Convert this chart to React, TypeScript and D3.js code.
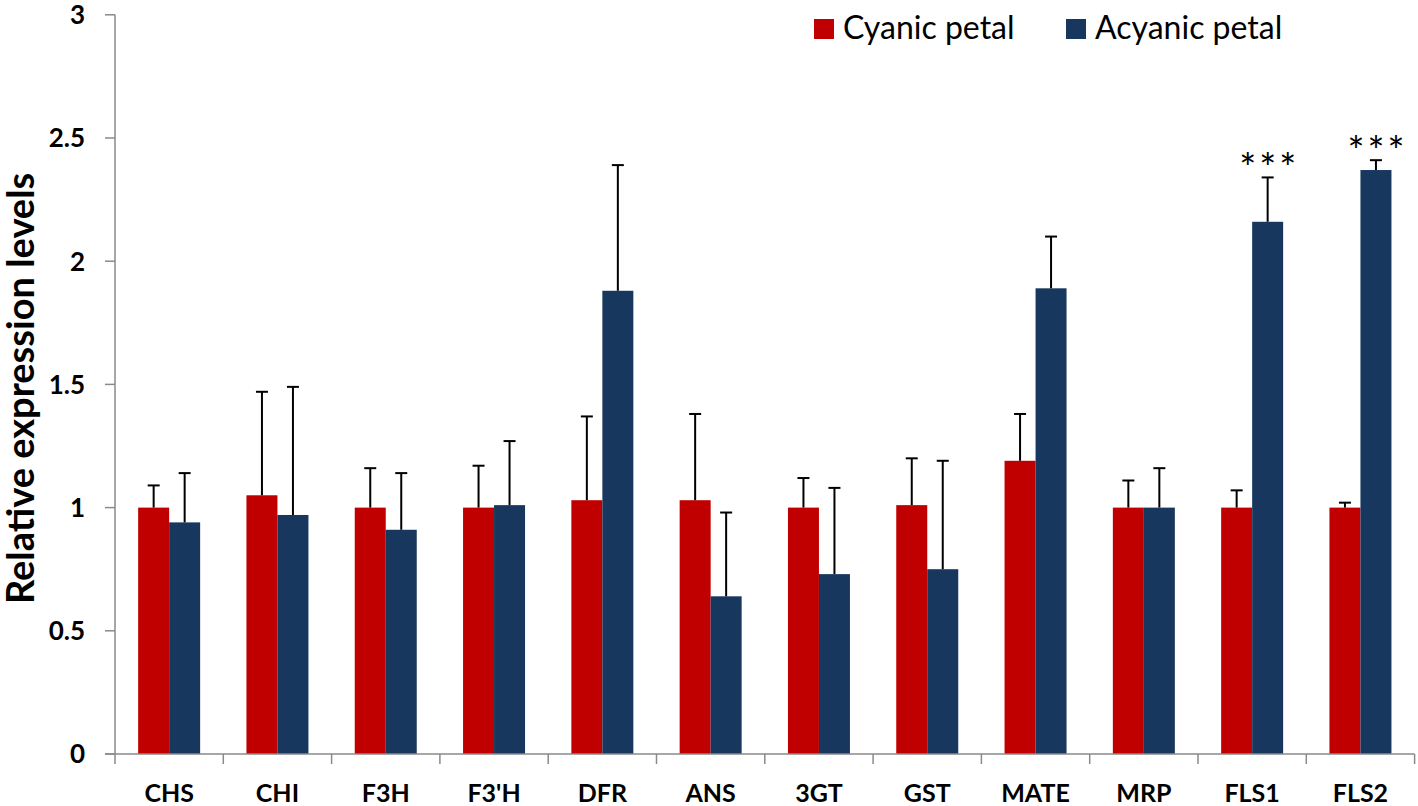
import React from "react";
import * as d3 from "d3";

const categories = ["CHS", "CHI", "F3H", "F3'H", "DFR", "ANS", "3GT", "GST", "MATE", "MRP", "FLS1", "FLS2"];
const seriesNames = ["Cyanic petal", "Acyanic petal"];
const cyanic = [1.0, 1.05, 1.0, 1.0, 1.03, 1.03, 1.0, 1.01, 1.19, 1.0, 1.0, 1.0];
const cyanicErr = [0.09, 0.42, 0.16, 0.17, 0.34, 0.35, 0.12, 0.19, 0.19, 0.11, 0.07, 0.02];
const acyanic = [0.94, 0.97, 0.91, 1.01, 1.88, 0.64, 0.73, 0.75, 1.89, 1.0, 2.16, 2.37];
const acyanicErr = [0.2, 0.52, 0.23, 0.26, 0.51, 0.34, 0.35, 0.44, 0.21, 0.16, 0.18, 0.04];
const significance = ["", "", "", "", "", "", "", "", "", "", "***", "***"];
const yTicks = [0, 0.5, 1, 1.5, 2, 2.5, 3];
const yTitle = "Relative expression levels";

const colors = ["#C00000", "#17375E"];
const axisColor = "#8a8a8a";
const font = "Lato, 'Open Sans', sans-serif";

export default function App() {
  const W = 1418;
  const H = 806;
  const left = 115;
  const right = 1414.6;
  const y0 = 754;
  const yTop = 14.8;

  const x = d3.scaleBand<string>().domain(categories).range([left, right]).paddingInner(0).paddingOuter(0);
  const inner = d3
    .scaleBand<number>()
    .domain([0, 1])
    .range([0, x.bandwidth()])
    .paddingInner(0)
    .paddingOuter(0.747);
  const y = d3.scaleLinear().domain([0, 3]).range([y0, yTop]);

  const series = [
    { values: cyanic, errs: cyanicErr },
    { values: acyanic, errs: acyanicErr },
  ];
  const bw = inner.bandwidth();
  const boundaries = d3.range(categories.length + 1).map((i) => left + i * x.step());

  return (
    <svg
      width={W}
      height={H}
      style={{ position: "absolute", left: 0, top: 0, display: "block", background: "#fff" }}
    >
      {series.map((s, si) =>
        categories.map((c, ci) => {
          const bx = (x(c) as number) + (inner(si) as number);
          return (
            <rect
              key={`b-${si}-${ci}`}
              x={bx}
              y={y(s.values[ci])}
              width={bw}
              height={y0 - y(s.values[ci])}
              fill={colors[si]}
            />
          );
        })
      )}
      {series.map((s, si) =>
        categories.map((c, ci) => {
          const cx = (x(c) as number) + (inner(si) as number) + bw / 2;
          const top = y(s.values[ci] + s.errs[ci]);
          return (
            <g key={`e-${si}-${ci}`} stroke="#000" strokeWidth={2}>
              <line x1={cx} x2={cx} y1={y(s.values[ci])} y2={top} />
              <line x1={cx - 6} x2={cx + 6} y1={top} y2={top} />
            </g>
          );
        })
      )}
      {categories.map((c, ci) => {
        if (!significance[ci]) return null;
        const cx = (x(c) as number) + (inner(1) as number) + bw / 2;
        const top = y(acyanic[ci] + acyanicErr[ci]);
        const stars = significance[ci].split("");
        return stars.map((st, k) => (
          <text
            key={`s-${ci}-${k}`}
            x={cx + (k - (stars.length - 1) / 2) * 20}
            y={top + 6}
            textAnchor="middle"
            fontFamily={font}
            fontSize={40}
            fill="#000"
          >
            {st}
          </text>
        ));
      })}
      <line x1={left} x2={left} y1={y(3)} y2={y0} stroke={axisColor} strokeWidth={1.5} />
      {yTicks.map((t) => (
        <g key={`yt-${t}`}>
          <line x1={left - 10} x2={left} y1={y(t)} y2={y(t)} stroke={axisColor} strokeWidth={1.5} />
          <text
            x={left - 30}
            y={y(t)}
            dy="0.36em"
            textAnchor="end"
            fontFamily={font}
            fontWeight="bold"
            fontSize={26}
            fill="#000"
          >
            {String(t)}
          </text>
        </g>
      ))}
      <line x1={left - 10} x2={right} y1={y0} y2={y0} stroke={axisColor} strokeWidth={1.5} />
      {boundaries.map((bx, i) => (
        <line key={`xt-${i}`} x1={bx} x2={bx} y1={y0} y2={y0 + 10} stroke={axisColor} strokeWidth={1.5} />
      ))}
      {categories.map((c) => (
        <text
          key={`xl-${c}`}
          x={(x(c) as number) + x.bandwidth() / 2}
          y={802}
          textAnchor="middle"
          fontFamily={font}
          fontWeight="bold"
          fontSize={25}
          fill="#000"
        >
          {c}
        </text>
      ))}
      <text
        transform={`translate(34, ${(y(3) + y0) / 2 + 4}) rotate(-90)`}
        textAnchor="middle"
        fontFamily={font}
        fontWeight="bold"
        fontSize={38}
        fill="#000"
      >
        {yTitle}
      </text>
      {seriesNames.map((n, i) => {
        const lx = [814, 1066][i];
        return (
          <g key={`lg-${i}`}>
            <rect x={lx} y={19} width={20} height={20} fill={colors[i]} />
            <text x={lx + 29} y={39} fontFamily={font} fontSize={32} fill="#000">
              {n}
            </text>
          </g>
        );
      })}
    </svg>
  );
}
